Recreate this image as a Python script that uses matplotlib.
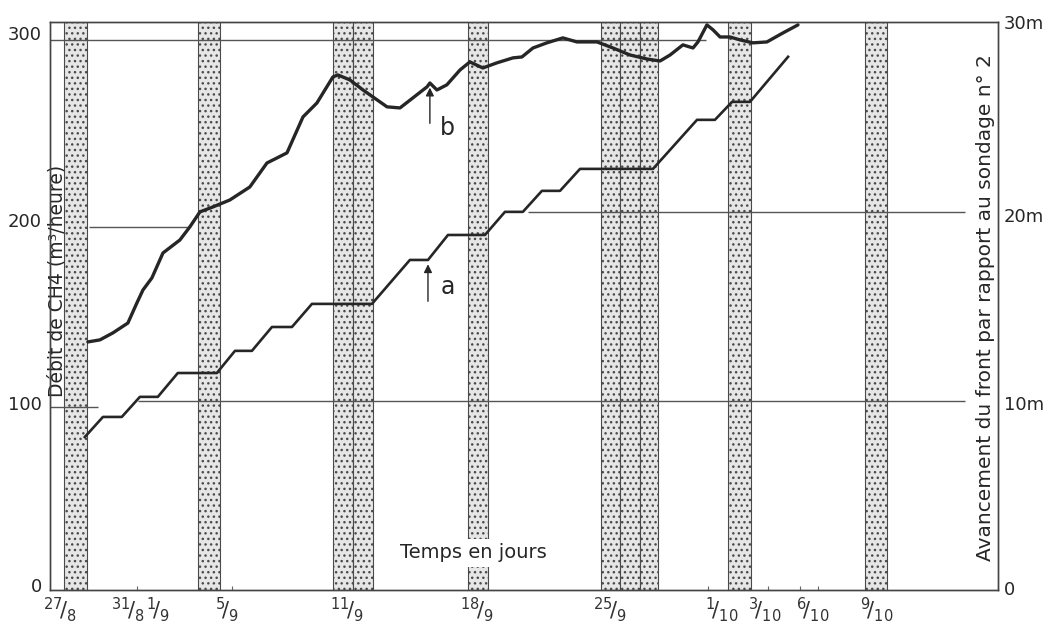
import matplotlib.pyplot as plt

plt.rcParams['font.family'] = ['DejaVu Sans']
plt.rcParams['mathtext.fontset'] = 'dejavusans'
plt.rcParams['hatch.linewidth'] = 1.0

# x in days since 27/8
# curve b : CH4 flow (m3/heure), left axis
b_days = [1.47, 2.1, 2.78, 3.57, 4.04, 4.36, 4.83, 5.41, 6.30, 6.82, 7.35, 8.03, 8.92,
          9.97, 10.87, 11.39, 11.92, 12.76, 13.49, 14.33, 14.59, 15.22, 15.91, 17.17,
          17.85, 18.53, 19.27, 19.42, 19.79, 20.31, 21.0, 21.52, 22.2, 22.94, 23.78,
          24.25, 24.83, 25.56, 26.4, 27.14, 28.19, 29.03, 29.92, 30.81, 31.5, 32.03,
          32.7, 33.23, 33.49, 33.96, 34.28, 34.65, 35.17, 35.7, 36.38, 37.11, 37.95, 38.74]
b_debit = [135.3, 136.4, 140.2, 145.6, 156.5, 163.6, 170.2, 183.8, 190.9, 198.0, 206.2,
           208.9, 212.7, 219.8, 232.9, 235.6, 238.4, 258.0, 265.6, 279.8, 280.9, 278.2,
           272.7, 263.5, 262.9, 268.4, 274.4, 276.5, 272.7, 275.5, 283.6, 288.0, 284.7,
           287.5, 290.2, 290.7, 295.6, 298.4, 301.1, 298.9, 298.9, 295.6, 291.8, 289.6,
           288.5, 291.8, 297.3, 295.6, 298.9, 308.2, 305.5, 301.6, 301.6, 300.0, 298.4,
           298.9, 303.8, 308.2]

# curve a : advance of the face (m), right axis
a_days = [1.31, 2.26, 3.25, 4.2, 5.14, 6.19, 8.24, 9.19, 10.08, 11.13, 12.18, 13.23,
          16.38, 18.37, 19.32, 20.37, 22.31, 23.36, 24.3, 25.3, 26.25, 27.3, 31.13,
          33.44, 34.38, 35.28, 36.22, 38.22]
a_avance = [8.08, 9.14, 9.14, 10.2, 10.2, 11.46, 11.46, 12.63, 12.63, 13.89, 13.89,
            15.11, 15.11, 17.43, 17.43, 18.75, 18.75, 19.97, 19.97, 21.08, 21.08, 22.24,
            22.24, 24.83, 24.83, 25.78, 25.78, 28.16]

# stippled strips (non-working days)
band_start = [0.21, 7.24, 14.33, 15.38, 21.42, 28.4, 29.4, 30.45, 35.07, 42.26]
band_width = [1.21, 1.16, 1.05, 1.05, 1.05, 1.0, 1.05, 0.94, 1.2, 1.15]

date_days = [0, 3.57, 5.14, 8.77, 15.07, 21.89, 28.87, 34.75, 37.01, 39.53, 42.89]
date_labels = [r'$^{27}\!/_{8}$', r'$^{31}\!/_{8}$', r'$^{1}\!/_{9}$',
               r'$^{5}\!/_{9}$', r'$^{11}\!/_{9}$', r'$^{18}\!/_{9}$',
               r'$^{25}\!/_{9}$', r'$^{1}\!/_{10}$', r'$^{3}\!/_{10}$',
               r'$^{6}\!/_{10}$', r'$^{9}\!/_{10}$']
day_marks = [4.04, 5.14, 9.03, 34.02, 37.17, 38.85, 39.8]

left_ticks = [2.5, 102, 202, 304]
left_labels = ['0', '100', '200', '300']
right_ticks = [0.1, 9.9, 19.8, 30.0]
right_labels = ['0', '10m', '20m', '30m']

# horizontal reference lines (left axis units): level, start day, end day
ref_level = [300.0, 198.0, 99.8, 103.1, 206.2]
ref_from = [-0.52, 1.52, -0.52, 4.09, 24.57]
ref_to = [33.9, 6.82, 1.99, 47.5, 47.5]

ink = '#262626'

fig = plt.figure(figsize=(10.43, 6.27), dpi=100)
ax = fig.add_axes([0.0479, 0.059, 0.909, 0.906])
ax2 = ax.twinx()

ax.set_xlim(-0.52, 49.24)
ax.set_ylim(0, 309.8)
ax2.set_ylim(0, 30)

for s, w in zip(band_start, band_width):
    ax.axvspan(s, s + w, facecolor='#e6e6e6', edgecolor='#4a4a4a', hatch='...',
               lw=0.8, zorder=1)

for lev, x0, x1 in zip(ref_level, ref_from, ref_to):
    ax.hlines(lev, x0, x1, color='#555555', lw=1.0, zorder=2)

ax.plot(b_days, b_debit, color=ink, lw=2.4, zorder=4, solid_capstyle='round')
ax2.plot(a_days, a_avance, color=ink, lw=1.9, zorder=4)

# arrows
ax.annotate('', xy=(19.42, 275.5), xytext=(19.42, 253.0),
            arrowprops=dict(arrowstyle='-|>', color=ink, lw=1.0, mutation_scale=12))
ax.text(20.35, 252, 'b', fontsize=17, color=ink, ha='center', va='center')
ax2.annotate('', xy=(19.32, 17.35), xytext=(19.32, 15.1),
             arrowprops=dict(arrowstyle='-|>', color=ink, lw=1.0, mutation_scale=12))
ax2.text(20.35, 16.0, 'a', fontsize=17, color=ink, ha='center', va='center')

ax.text(-0.16, 168.5, 'Débit de CH4 (m³/heure)', rotation=90, fontsize=13.5,
        color=ink, ha='center', va='center', zorder=5)
ax.text(48.56, 153.8, 'Avancement du front par rapport au sondage n° 2', rotation=90,
        fontsize=14.5, color=ink, ha='center', va='center', zorder=5)
ax.text(21.68, 20.2, 'Temps en jours', fontsize=14, color=ink, ha='center',
        va='center', zorder=5,
        bbox=dict(facecolor='white', edgecolor='none', pad=3))

ax.set_xticks(date_days)
ax.set_xticklabels(date_labels, fontsize=15, color='#333333')
ax.set_xticks(day_marks, minor=True)
ax.tick_params(axis='x', which='major', length=0, pad=4)
ax.tick_params(axis='x', which='minor', length=3, width=0.8, direction='in',
               color='#666666')

ax.set_yticks(left_ticks)
ax.set_yticklabels(left_labels, fontsize=13, color=ink)
ax.tick_params(axis='y', length=0, pad=6)
ax2.set_yticks(right_ticks)
ax2.set_yticklabels(right_labels, fontsize=13, color=ink)
ax2.tick_params(axis='y', length=0, pad=4)

for a in (ax, ax2):
    for sp in a.spines.values():
        sp.set_color('#444444')
        sp.set_linewidth(1.0)

fig.savefig('out.png', dpi=100)
